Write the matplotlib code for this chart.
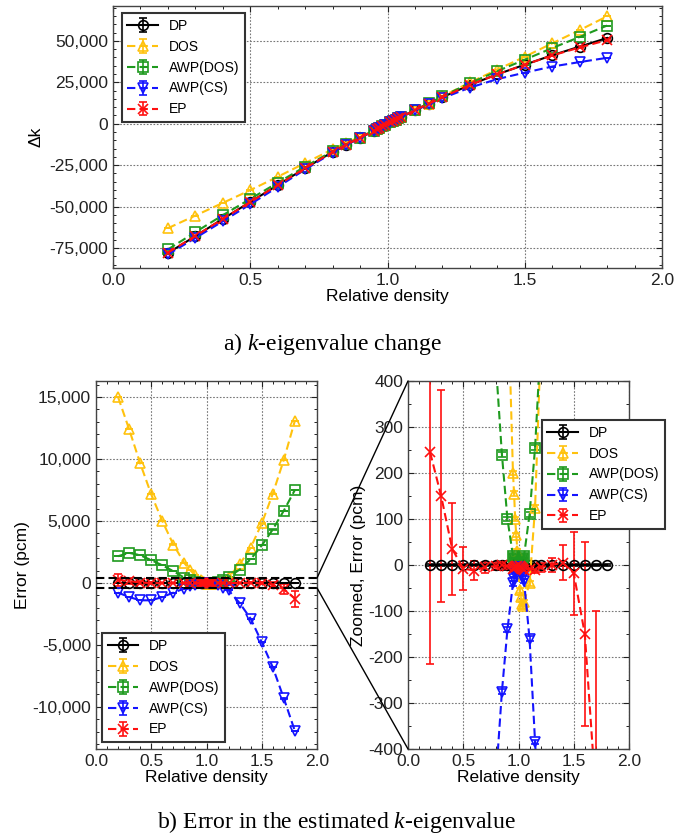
import matplotlib
matplotlib.use("Agg")
import matplotlib.pyplot as plt
from matplotlib.patches import ConnectionPatch
from matplotlib.ticker import FuncFormatter, MultipleLocator

plt.rcParams['font.family'] = ['Liberation Sans', 'DejaVu Sans']
plt.rcParams['mathtext.fontset'] = 'custom'
plt.rcParams['mathtext.rm'] = 'Liberation Serif'
plt.rcParams['mathtext.it'] = 'Liberation Serif:italic'

# ---------------- data ----------------
density = [0.2, 0.3, 0.4, 0.5, 0.6, 0.7, 0.8, 0.85, 0.9,
           0.95, 0.96, 0.97, 0.98, 0.99, 1.01, 1.02, 1.03, 1.04, 1.05,
           1.1, 1.15, 1.2, 1.3, 1.4, 1.5, 1.6, 1.7, 1.8]

methods = ["DP", "DOS", "AWP(DOS)", "AWP(CS)", "EP"]

# k-eigenvalue change (pcm)
dk_dp = [-78000, -67800, -57400, -47200, -37000, -26800, -17000, -12600, -8500,
         -4200, -3350, -2500, -1660, -830, 820, 1640, 2450, 3250, 4050,
         8200, 12000, 16000, 23400, 29800, 35600, 41300, 46500, 51700]
dk_dos = [-63000, -55400, -47750, -40050, -32000, -23700, -15400, -11550, -7880,
          -4000, -3195, -2400, -1595, -800, 765, 1570, 2365, 3160, 3970,
          8160, 12125, 16470, 24900, 32650, 40400, 48500, 56450, 64800]
dk_awp_dos = [-75840, -65370, -55160, -45360, -35570, -25850, -16580, -12360, -8400,
              -4180, -3335, -2490, -1654, -827, 823, 1646, 2460, 3265, 4070,
              8310, 12255, 16480, 24480, 31720, 38630, 45620, 52340, 59210]
dk_awp_cs = [-78780, -68935, -58800, -48600, -38135, -27580, -17450, -12875, -8640,
             -4240, -3380, -2520, -1672, -835, 815, 1630, 2432, 3225, 4015,
             8040, 11615, 15400, 21780, 26910, 30820, 34490, 37180, 39750]
dk_ep = [-77755, -67650, -57365, -47208, -37012, -26805, -17002, -12600, -8503,
         -4208, -3356, -2505, -1664, -833, 817, 1636, 2444, 3242, 4040,
         8192, 11990, 15995, 23400, 29805, 35582, 41150, 46000, 50430]

# error in estimated k-eigenvalue (pcm)
err_dp = [0, 0, 0, 0, 0, 0, 0, 0, 0,
          0, 0, 0, 0, 0, 0, 0, 0, 0, 0,
          0, 0, 0, 0, 0, 0, 0, 0, 0]
err_dos = [15000, 12400, 9650, 7150, 5000, 3100, 1600, 1050, 620,
           200, 155, 100, 65, 30, -55, -70, -85, -90, -80,
           -40, 125, 470, 1500, 2850, 4800, 7200, 9950, 13100]
err_awp_dos = [2160, 2430, 2240, 1840, 1430, 950, 420, 240, 100,
               20, 15, 10, 6, 3, 3, 6, 10, 15, 20,
               110, 255, 480, 1080, 1920, 3030, 4320, 5840, 7510]
err_awp_cs = [-780, -1135, -1400, -1400, -1135, -780, -450, -275, -140,
              -40, -30, -20, -12, -5, -5, -10, -18, -25, -35,
              -160, -385, -600, -1620, -2890, -4780, -6810, -9320, -11950]
err_ep = [245, 150, 35, -8, -12, -5, -2, 0, -3,
          -8, -6, -5, -4, -3, -3, -4, -6, -8, -10,
          -8, -10, -5, 0, 5, -18, -150, -500, -1270]

# statistical uncertainties (pcm)
sd_dp = [3, 3, 3, 3, 3, 3, 3, 3, 3,
         3, 3, 3, 3, 3, 3, 3, 3, 3, 3,
         3, 3, 3, 3, 3, 3, 3, 3, 3]
sd_other = [5, 5, 5, 5, 5, 5, 5, 5, 5,
            5, 5, 5, 5, 5, 5, 5, 5, 5, 5,
            5, 5, 5, 5, 5, 5, 5, 5, 5]
sd_ep = [460, 230, 100, 47, 20, 12, 8, 6, 5,
         4, 4, 4, 4, 4, 4, 4, 4, 4, 4,
         6, 8, 10, 15, 38, 90, 200, 400, 650]

# ---------------- style ----------------
colors = ["black", "#FFC20E", "#1E9A1E", "#1414FF", "#FF1010"]
markers = ["o", "^", "s", "v", "x"]
lstyles = ["-", (0, (4, 2)), (0, (4, 2)), (0, (4, 2)), (0, (4, 2))]

fig = plt.figure(figsize=(6.75, 8.38), dpi=100)
W, H = 675.0, 838.0


def axes_px(l, t, r, b):
    return fig.add_axes([l / W, 1 - b / H, (r - l) / W, (b - t) / H])


def style_axes(ax, ymaj, ymin, yfmt):
    ax.set_xlim(0, 2)
    ax.xaxis.set_major_locator(MultipleLocator(0.5))
    ax.xaxis.set_minor_locator(MultipleLocator(0.1))
    ax.yaxis.set_major_locator(MultipleLocator(ymaj))
    ax.yaxis.set_minor_locator(MultipleLocator(ymin))
    ax.xaxis.set_major_formatter(FuncFormatter(lambda v, p: "{:.1f}".format(v)))
    ax.yaxis.set_major_formatter(FuncFormatter(yfmt))
    ax.tick_params(which="both", direction="in", top=True, right=True,
                   labelsize=12.5, colors="#222222")
    ax.tick_params(which="major", length=4.5, width=0.8)
    ax.tick_params(which="minor", length=2.5, width=0.7)
    ax.grid(True, which="major", linestyle=(0, (1.5, 1.5)), color="#777777", linewidth=0.8)
    for s in ax.spines.values():
        s.set_color("#444444")
        s.set_linewidth(1.0)
    ax.set_xlabel("Relative density", fontsize=12.5, labelpad=1)
    ax.set_axisbelow(True)


def draw(ax, ys, errs):
    for name, y, e, c, m, ls in zip(methods, ys, errs, colors, markers, lstyles):
        ax.errorbar(density, y, yerr=e, color=c, linestyle=ls, marker=m,
                    mfc="none", mec=c, ms=7, mew=1.2, lw=1.5,
                    capsize=3, elinewidth=1.2, capthick=1.2, label=name)


def legend(ax, **kw):
    lg = ax.legend(fontsize=10, fancybox=False, framealpha=1, edgecolor="#333333",
                   borderaxespad=0, handlelength=2.2, **kw)
    lg.get_frame().set_linewidth(1.5)
    return lg


comma = lambda v, p: "{:,.0f}".format(v)
plain = lambda v, p: "{:.0f}".format(v)

# ---- a) ----
ax1 = axes_px(113, 6, 662, 268)
draw(ax1, [dk_dp, dk_dos, dk_awp_dos, dk_awp_cs, dk_ep],
     [sd_dp, sd_other, sd_other, sd_other, sd_ep])
style_axes(ax1, 25000, 5000, comma)
ax1.set_ylim(-87000, 71000)
ax1.set_ylabel("\u0394k", fontsize=12.5, labelpad=4)
legend(ax1, loc="upper left", bbox_to_anchor=(0.016, 0.973))

# ---- b) left ----
ax2 = axes_px(96, 381, 317, 749)
draw(ax2, [err_dp, err_dos, err_awp_dos, err_awp_cs, err_ep],
     [sd_dp, sd_other, sd_other, sd_other, sd_ep])
style_axes(ax2, 5000, 1000, comma)
ax2.set_ylim(-13400, 16300)
ax2.set_ylabel("Error (pcm)", fontsize=12.5, labelpad=2)
ax2.axhline(400, color="black", linestyle=(0, (4, 2)), lw=1.5, zorder=5)
ax2.axhline(-400, color="black", linestyle=(0, (4, 2)), lw=1.5, zorder=5)
legend(ax2, loc="lower left", bbox_to_anchor=(0.027, 0.019))

# ---- b) right (zoom) ----
ax3 = axes_px(408, 381, 629, 749)
draw(ax3, [err_dp, err_dos, err_awp_dos, err_awp_cs, err_ep],
     [sd_dp, sd_other, sd_other, sd_other, sd_ep])
style_axes(ax3, 100, 50, plain)
ax3.set_ylim(-400, 400)
ax3.set_ylabel("Zoomed, Error (pcm)", fontsize=12.5, labelpad=2)
legend(ax3, loc="upper left", bbox_to_anchor=(0.606, 0.894))

for yv in (400, -400):
    cp = ConnectionPatch(xyA=(2.0, yv), coordsA=ax2.transData,
                         xyB=(0.0, yv), coordsB=ax3.transData,
                         color="black", lw=1.0)
    fig.add_artist(cp)

fig.text(332 / W, 1 - 344 / H, "a) $k$-eigenvalue change", ha="center", va="center",
         fontsize=17, family=["Liberation Serif"])
fig.text(336 / W, 1 - 822 / H, "b) Error in the estimated $k$-eigenvalue", ha="center",
         va="center", fontsize=17, family=["Liberation Serif"])

fig.savefig("out.png", dpi=100)
